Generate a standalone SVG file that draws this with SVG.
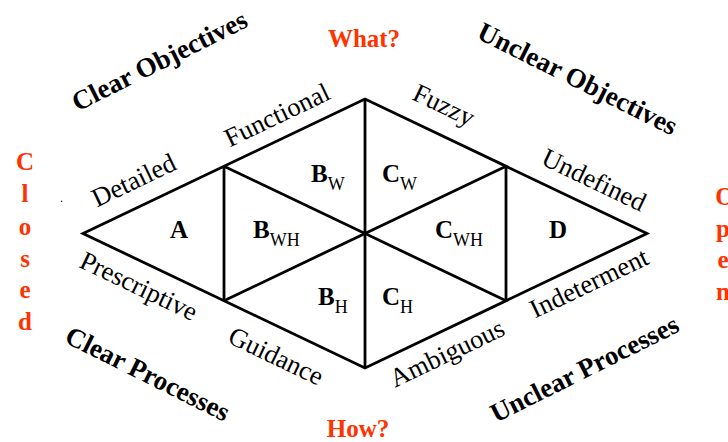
<svg xmlns="http://www.w3.org/2000/svg" width="728" height="442" viewBox="0 0 728 442">
<style>
.ln{fill:none;stroke:#000;stroke-width:2.8;stroke-linejoin:miter}
.t{font-family:"Liberation Serif","Times New Roman",serif;fill:#000}
.ttl{font-size:27px;font-weight:bold}
.lbl{font-size:26.5px}
.cell{font-size:25px;font-weight:bold}
.sub{font-size:18px;font-weight:normal}
.red{font-family:"Liberation Serif","Times New Roman",serif;fill:#FF3300;font-weight:bold;font-size:25px}
</style>
<rect width="728" height="442" fill="#fff"/>
<g id="connectors">
<polygon class="ln" points="83,233.5 365,99 647,233.5 365,368"/>
<line class="ln" x1="224" y1="166.25" x2="224" y2="300.75"/>
<line class="ln" x1="506" y1="166.25" x2="506" y2="300.75"/>
<line class="ln" x1="365" y1="99" x2="365" y2="368"/>
<line class="ln" x1="224" y1="166.25" x2="506" y2="300.75"/>
<line class="ln" x1="224" y1="300.75" x2="506" y2="166.25"/>
</g>
<g id="cell-A"><text class="t cell" x="170" y="238">A</text></g>
<g id="cell-BW"><text class="t cell" x="311" y="182">B<tspan class="sub" dy="8">W</tspan></text></g>
<g id="cell-CW"><text class="t cell" x="382" y="182">C<tspan class="sub" dy="8">W</tspan></text></g>
<g id="cell-BWH"><text class="t cell" x="253" y="238">B<tspan class="sub" dy="8">WH</tspan></text></g>
<g id="cell-CWH"><text class="t cell" x="435" y="238">C<tspan class="sub" dy="8">WH</tspan></text></g>
<g id="cell-BH"><text class="t cell" x="318" y="305">B<tspan class="sub" dy="8">H</tspan></text></g>
<g id="cell-CH"><text class="t cell" x="382" y="305">C<tspan class="sub" dy="8">H</tspan></text></g>
<g id="cell-D"><text class="t cell" x="549" y="238">D</text></g>
<g id="edge-labels">
<text class="t lbl" text-anchor="middle" dy="0.3em" transform="translate(134,181) rotate(-25.6)">Detailed</text>
<text class="t lbl" text-anchor="middle" dy="0.33em" transform="translate(277,115) rotate(-25.6)">Functional</text>
<text class="t lbl" text-anchor="middle" dy="0.25em" transform="translate(443,107) rotate(25.6)">Fuzzy</text>
<text class="t lbl" text-anchor="middle" dy="0.33em" transform="translate(594,180) rotate(25.6)">Undefined</text>
<text class="t lbl" text-anchor="middle" dy="0.25em" transform="translate(138,288) rotate(25.6)">Prescriptive</text>
<text class="t lbl" text-anchor="middle" dy="0.33em" transform="translate(276,356) rotate(25.6)">Guidance</text>
<text class="t lbl" text-anchor="middle" dy="0.25em" transform="translate(448,355) rotate(-25.6)">Ambiguous</text>
<text class="t lbl" text-anchor="middle" dy="0.33em" transform="translate(589,283) rotate(-25.6)">Indeterment</text>
</g>
<g id="titles">
<text class="t ttl" text-anchor="middle" dy="0.28em" transform="translate(160,62) rotate(-26.5)">Clear Objectives</text>
<text class="t ttl" text-anchor="middle" dy="0.28em" transform="translate(577,80) rotate(26.5)">Unclear Objectives</text>
<text class="t ttl" text-anchor="middle" dy="0.28em" transform="translate(147,375) rotate(26.5)">Clear Processes</text>
<text class="t ttl" text-anchor="middle" dy="0.28em" transform="translate(585,370) rotate(-26.5)">Unclear Processes</text>
</g>
<g id="axis-what"><text class="red" x="364" y="47" text-anchor="middle">What?</text></g>
<g id="axis-how"><text class="red" x="358" y="437" text-anchor="middle">How?</text></g>
<g id="axis-closed">
<text class="red" text-anchor="middle" x="25" y="170">C</text>
<text class="red" text-anchor="middle" x="25" y="202">l</text>
<text class="red" text-anchor="middle" x="25" y="235">o</text>
<text class="red" text-anchor="middle" x="25" y="267">s</text>
<text class="red" text-anchor="middle" x="25" y="298">e</text>
<text class="red" text-anchor="middle" x="25" y="330">d</text>
</g>
<g id="axis-open">
<text class="red" text-anchor="middle" x="725" y="205">O</text>
<text class="red" text-anchor="middle" x="723" y="237">p</text>
<text class="red" text-anchor="middle" x="723" y="268">e</text>
<text class="red" text-anchor="middle" x="723" y="300">n</text>
</g>
<text class="t" x="60" y="202" font-size="12">.</text>
</svg>
